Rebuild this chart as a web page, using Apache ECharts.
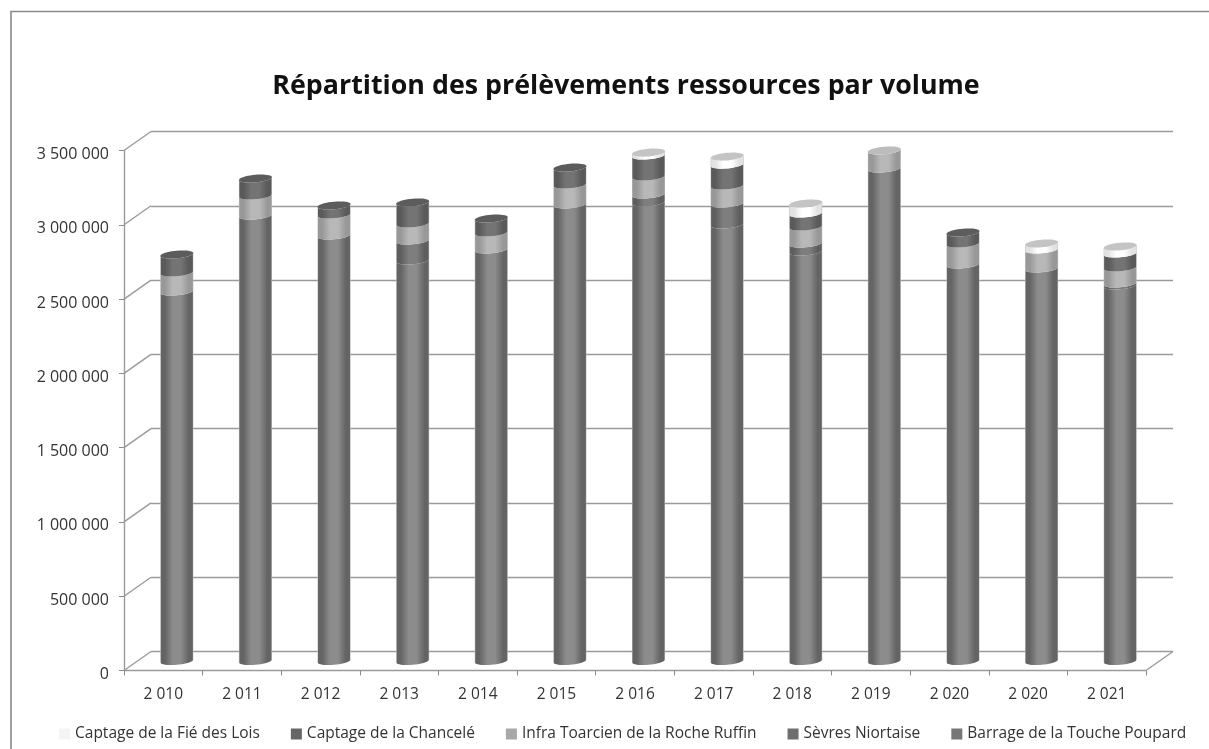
<!DOCTYPE html>
<html>
<head>
<meta charset="utf-8">
<script src="https://cdn.jsdelivr.net/npm/echarts@6/dist/echarts.min.js"></script>
<style>
html, body { margin: 0; background: #fff; }
#main { width: 1209px; height: 749px; }
</style>
</head>
<body>
<div id="main"></div>
<script>
const years = ['2 010', '2 011', '2 012', '2 013', '2 014', '2 015', '2 016', '2 017', '2 018', '2 019', '2 020', '2 020', '2 021'];
const barrage = [2487000, 2998000, 2864000, 2696000, 2770000, 3073000, 3086000, 2938000, 2756000, 3315000, 2669000, 2642000, 2527000];
const sevres = [0, 0, 0, 134000, 0, 0, 54000, 141000, 54000, 0, 0, 0, 14000];
const infra = [128000, 135000, 141000, 115000, 114000, 134000, 121000, 121000, 114000, 121000, 141000, 128000, 108000];
const chancele = [121000, 114000, 61000, 141000, 94000, 114000, 141000, 141000, 88000, 0, 74000, 0, 94000];
const fie = [0, 0, 0, 0, 0, 0, 20000, 54000, 67000, 0, 0, 40000, 47000];
const yTicks = [0, 500000, 1000000, 1500000, 2000000, 2500000, 3000000, 3500000];

const textFont = 'Open Sans';

// bas de pile vers le haut
const layers = [
  { name: 'Barrage de la Touche Poupard', values: barrage, swatch: '#777777', edge: '#646464', mid: '#8c8c8c', cap: '#5e5e5e' },
  { name: 'Sèvres Niortaise', values: sevres, swatch: '#6e6e6e', edge: '#5e5e5e', mid: '#7e7e7e', cap: '#5e5e5e' },
  { name: 'Infra Toarcien de la Roche Ruffin', values: infra, swatch: '#a8a8a8', edge: '#989898', mid: '#b8b8b8', cap: '#bcbcbc' },
  { name: 'Captage de la Chancelé', values: chancele, swatch: '#666666', edge: '#5a5a5a', mid: '#747474', cap: '#5c5c5c' },
  { name: 'Captage de la Fié des Lois', values: fie, swatch: '#f4f4f4', edge: '#e2e2e2', mid: '#ffffff', cap: '#c4c4c4' }
];

// décalage de la perspective : mur du fond et milieu de la profondeur
const depthX = 27;
const depthY = -19;
const barRatio = 0.42;
const capRy = 3.8;
const capTilt = 1.4;

function arc(cx, cy, rx, from, to, steps) {
  const pts = [];
  for (let i = 0; i <= steps; i++) {
    const t = from + (to - from) * i / steps;
    pts.push([cx + rx * Math.cos(t), cy + capRy * Math.sin(t) - capTilt * Math.cos(t)]);
  }
  return pts;
}

function renderBar(layerIndex) {
  const layer = layers[layerIndex];
  return function (params, api) {
    const idx = api.value(0);
    const low = api.value(1);
    const high = api.value(2);
    if (high <= low) return;
    const a = api.coord([idx, low]);
    const b = api.coord([idx, high]);
    const rx = api.size([1, 0])[0] * barRatio / 2;
    const cx = a[0] + depthX / 2;
    const yLow = a[1] + depthY / 2;
    const yHigh = b[1] + depthY / 2;
    const points = arc(cx, yLow, rx, 0, Math.PI, 20).concat(arc(cx, yHigh, rx, Math.PI, 0, 20));
    const children = [{
      type: 'polygon',
      shape: { points: points },
      style: {
        fill: {
          type: 'linear', x: 0, y: 0, x2: 1, y2: 0,
          colorStops: [
            { offset: 0, color: '#bdbdbd' },
            { offset: 0.03, color: layer.edge },
            { offset: 0.14, color: layer.edge },
            { offset: 0.38, color: layer.mid },
            { offset: 0.62, color: layer.mid },
            { offset: 0.86, color: layer.edge },
            { offset: 0.97, color: layer.edge },
            { offset: 1, color: '#bdbdbd' }
          ]
        }
      }
    }];
    // couvercle uniquement au sommet de la colonne
    let above = 0;
    for (let i = layerIndex + 1; i < layers.length; i++) above += layers[i].values[idx];
    if (above === 0) {
      children.push({
        type: 'polygon',
        shape: { points: arc(cx, yHigh, rx, 0, Math.PI * 2, 40) },
        style: { fill: layer.cap }
      });
    }
    return { type: 'group', children: children };
  };
}

function renderWalls(params, api) {
  const p = api.coord([0, api.value(1)]);
  const sys = params.coordSys;
  const lines = [{
    type: 'line',
    shape: { x1: sys.x, y1: p[1], x2: sys.x + depthX, y2: p[1] + depthY },
    style: { stroke: '#9a9a9a', lineWidth: 1.4 }
  }];
  if (api.value(1) === 0) {
    lines.push({
      type: 'line',
      shape: { x1: sys.x + sys.width, y1: p[1], x2: sys.x + sys.width + depthX, y2: p[1] + depthY },
      style: { stroke: '#9a9a9a', lineWidth: 1.4 }
    });
  }
  return { type: 'group', children: lines };
}

const totals = years.map(() => 0);
const barSeries = layers.map((layer, k) => {
  const data = years.map((y, i) => {
    const start = totals[i];
    totals[i] += layer.values[i];
    return [i, start, totals[i]];
  });
  return {
    name: layer.name,
    type: 'custom',
    xAxisIndex: 0,
    yAxisIndex: 0,
    z: 5,
    itemStyle: { color: layer.swatch },
    renderItem: renderBar(k),
    encode: { x: 0, y: [1, 2] },
    data: data
  };
});

const chart = echarts.init(document.getElementById('main'));
chart.setOption({
  animation: false,
  backgroundColor: '#ffffff',
  title: {
    text: 'Répartition des prélèvements ressources par volume',
    left: 621,
    top: 68,
    textAlign: 'center',
    textStyle: { fontFamily: 'Open Sans', fontWeight: 'bold', fontSize: 26.8, color: '#111111' }
  },
  legend: {
    left: 54,
    top: 721,
    itemWidth: 11,
    itemHeight: 11,
    itemGap: 31,
    icon: 'rect',
    data: layers.map(l => l.name).reverse(),
    textStyle: { fontFamily: textFont, fontSize: 15.5, color: '#333333' }
  },
  grid: [
    { left: 124, top: 150.5, width: 1022, height: 520 },
    { left: 124 + depthX, top: 150.5 + depthY, width: 1022, height: 520 }
  ],
  xAxis: [
    {
      type: 'category',
      gridIndex: 0,
      data: years,
      axisLine: { lineStyle: { color: '#9a9a9a', width: 1.4 } },
      axisTick: { show: true, alignWithLabel: false, length: 5, lineStyle: { color: '#8c8c8c' } },
      axisLabel: { interval: 0, margin: 16, fontFamily: textFont, fontSize: 15.5, color: '#333333' }
    },
    {
      type: 'category',
      gridIndex: 1,
      data: years,
      axisLine: { show: false },
      axisTick: { show: false },
      axisLabel: { show: false }
    }
  ],
  yAxis: [
    {
      type: 'value',
      gridIndex: 0,
      min: 0,
      max: 3500000,
      interval: 500000,
      axisLine: { show: true, lineStyle: { color: '#9a9a9a', width: 1.4 } },
      axisTick: { show: true, length: 5, lineStyle: { color: '#8c8c8c' } },
      splitLine: { show: false },
      axisLabel: {
        margin: 15,
        verticalAlign: 'top',
        lineHeight: 8,
        fontFamily: textFont,
        fontSize: 16,
        color: '#333333',
        formatter: v => String(v).replace(/\B(?=(\d{3})+$)/g, ' ')
      }
    },
    {
      type: 'value',
      gridIndex: 1,
      min: 0,
      max: 3500000,
      interval: 500000,
      axisLine: { show: false },
      axisTick: { show: false },
      axisLabel: { show: false },
      splitLine: { show: true, lineStyle: { color: '#9a9a9a', width: 1.4 } }
    }
  ],
  graphic: [{
    type: 'polyline',
    silent: true,
    shape: { points: [[11, 749], [11, 11.5], [1209, 11.5]] },
    style: { stroke: '#8a8a8a', lineWidth: 1.6, fill: null }
  }],
  series: [{
    name: 'parois',
    type: 'custom',
    xAxisIndex: 0,
    yAxisIndex: 0,
    z: 1,
    silent: true,
    renderItem: renderWalls,
    encode: { x: 0, y: 1 },
    data: yTicks.map(v => [0, v])
  }].concat(barSeries)
});
</script>
</body>
</html>
